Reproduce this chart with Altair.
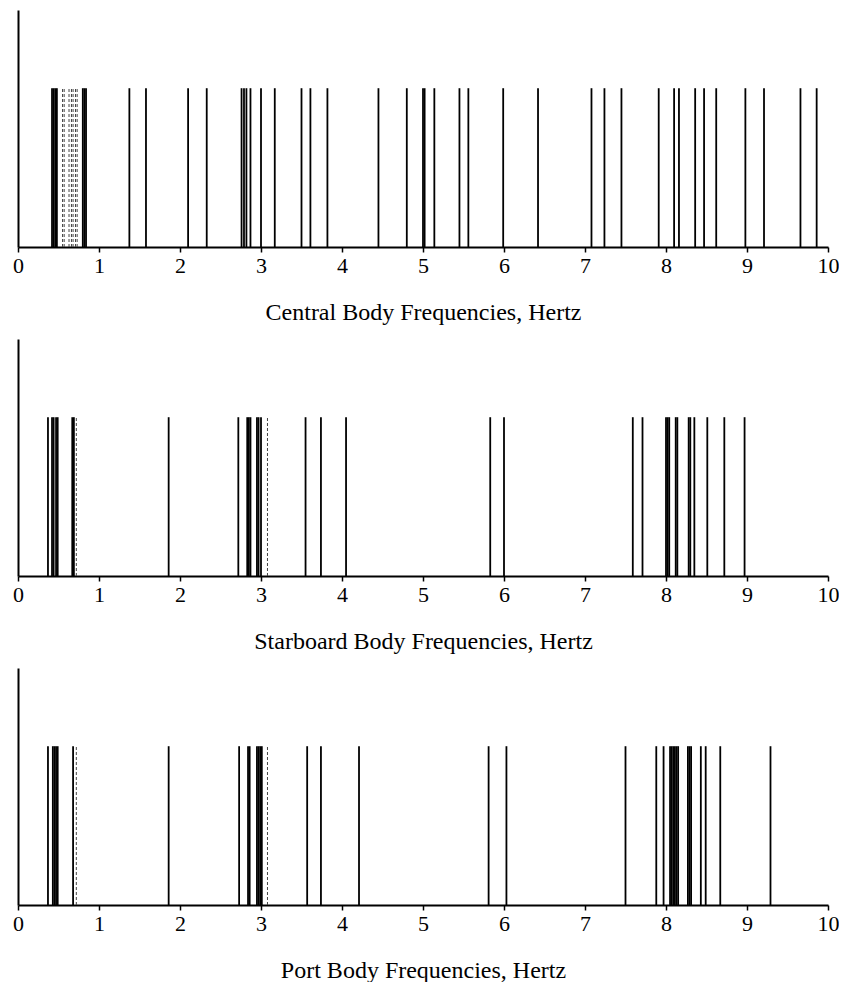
import altair as alt
import pandas as pd

# Frequencies (Hz), one list per panel
central = [0.42, 0.44, 0.46, 0.48, 0.80, 0.82, 0.84, 1.375, 1.58, 2.10, 2.33,
           2.76, 2.79, 2.82, 2.87, 3.00, 3.17, 3.50, 3.61, 3.82, 4.45, 4.80,
           5.00, 5.02, 5.14, 5.45, 5.56, 5.99, 6.42, 7.08, 7.24, 7.45, 7.91,
           8.10, 8.16, 8.36, 8.47, 8.62, 8.98, 9.21, 9.66, 9.86]
central_faint = [0.55, 0.57, 0.63, 0.66, 0.68, 0.71, 0.73]

starboard = [0.37, 0.42, 0.44, 0.47, 0.49, 0.67, 0.69, 1.86, 2.72, 2.83, 2.85,
             2.87, 2.95, 2.97, 3.00, 3.55, 3.74, 4.05, 5.83, 6.00, 7.59, 7.71,
             8.00, 8.02, 8.04, 8.12, 8.14, 8.28, 8.30, 8.35, 8.51, 8.72, 8.97]
starboard_faint = [0.72, 3.08]

port = [0.37, 0.43, 0.45, 0.47, 0.49, 0.68, 1.86, 2.73, 2.84, 2.86, 2.95,
        2.97, 2.99, 3.01, 3.57, 3.74, 4.21, 5.81, 6.03, 7.50, 7.88, 7.97,
        8.05, 8.07, 8.09, 8.11, 8.13, 8.15, 8.27, 8.29, 8.31, 8.43, 8.49,
        8.67, 9.29]
port_faint = [0.72, 3.08]

titles = ["Central Body Frequencies, Hertz",
          "Starboard Body Frequencies, Hertz",
          "Port Body Frequencies, Hertz"]
tick_values = [0, 1, 2, 3, 4, 5, 6, 7, 8, 9, 10]
line_level = 0.67  # relative height of every spectral line

SERIF = "Liberation Serif"


def panel(main, faint, title):
    df = pd.DataFrame({"freq": main, "lo": 0.0, "hi": line_level})
    dff = pd.DataFrame({"freq": faint, "lo": 0.0, "hi": line_level})
    x = alt.X("freq:Q",
              scale=alt.Scale(domain=[0, 10], nice=False, zero=True),
              axis=alt.Axis(title=title, values=tick_values, format="d"))
    y = alt.Y("lo:Q", scale=alt.Scale(domain=[0, 1], nice=False),
              axis=alt.Axis(title=None, labels=False, ticks=False, grid=False))
    solid = alt.Chart(df).mark_rule(color="black", strokeWidth=1.8).encode(
        x=x, y=y, y2="hi:Q")
    dashed = alt.Chart(dff).mark_rule(color="#444444", strokeWidth=1,
                                      strokeDash=[3, 2]).encode(
        x=x, y=y, y2="hi:Q")
    return alt.layer(dashed, solid).properties(width=810, height=237)


chart = alt.vconcat(
    panel(central, central_faint, titles[0]),
    panel(starboard, starboard_faint, titles[1]),
    panel(port, port_faint, titles[2]),
    spacing=15,
).configure_view(stroke=None).configure_axis(
    domainColor="black", domainWidth=2, tickColor="black", tickWidth=1.5,
    tickSize=5, labelFont=SERIF, labelFontSize=22, labelColor="black",
    labelPadding=3, labelFlush=False, grid=False, titleFont=SERIF,
    titleFontSize=24, titleFontWeight="normal", titleColor="black",
    titlePadding=24,
).properties(
    padding={"left": 12, "top": 10, "right": 0, "bottom": 0},
    background="white",
)

chart.save("out.html", embed_options={"renderer": "svg", "actions": False})
